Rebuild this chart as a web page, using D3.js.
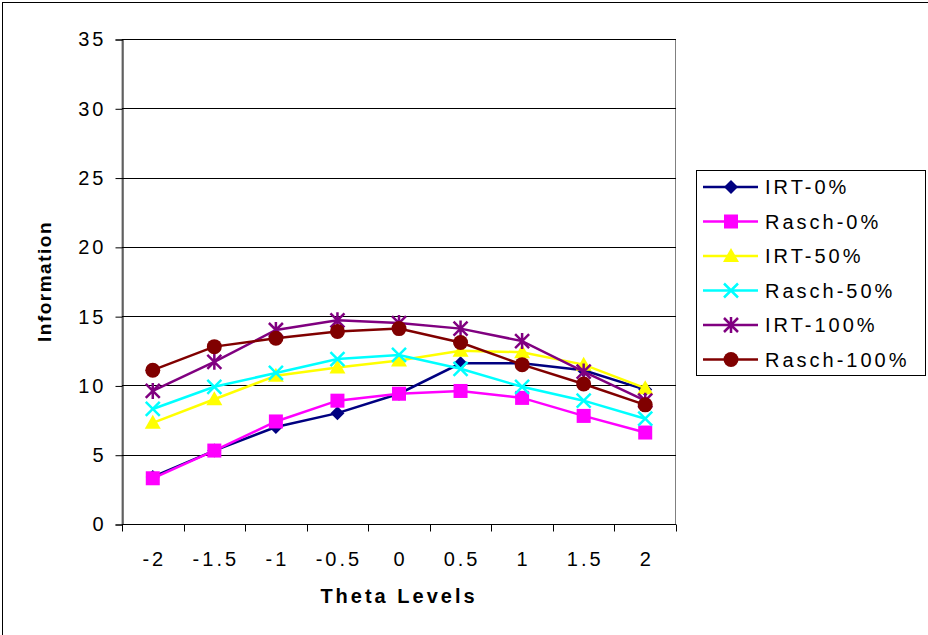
<!DOCTYPE html>
<html>
<head>
<meta charset="utf-8">
<script src="https://cdn.jsdelivr.net/npm/d3@7"></script>
<style>
  html, body { margin: 0; padding: 0; background: #fff; }
  svg { display: block; }
  text { font-family: Arial, "Liberation Sans", sans-serif; fill: #000; }
</style>
</head>
<body>
<svg id="chart" width="928" height="635"></svg>
<script>
const categories = ["-2", "-1.5", "-1", "-0.5", "0", "0.5", "1", "1.5", "2"];
const yTicks = [0, 5, 10, 15, 20, 25, 30, 35];
const seriesNames = ["IRT-0%", "Rasch-0%", "IRT-50%", "Rasch-50%", "IRT-100%", "Rasch-100%"];
const irt0     = [3.4, 5.3, 7.0, 8.0, 9.4, 11.6, 11.6, 11.1, 9.7];
const rasch0   = [3.3, 5.3, 7.4, 8.9, 9.4, 9.6, 9.1, 7.8, 6.6];
const irt50    = [7.3, 9.0, 10.7, 11.3, 11.8, 12.5, 12.4, 11.5, 9.8];
const rasch50  = [8.3, 9.9, 10.9, 11.9, 12.2, 11.2, 9.9, 8.9, 7.6];
const irt100   = [9.6, 11.7, 14.0, 14.7, 14.5, 14.1, 13.2, 11.0, 8.9];
const rasch100 = [11.1, 12.8, 13.4, 13.9, 14.1, 13.1, 11.5, 10.1, 8.6];
const colors  = ["#000080", "#FF00FF", "#FFFF00", "#00FFFF", "#800080", "#800000"];
const markers = ["diamond", "square", "triangle", "x", "star", "circle"];

const values = [irt0, rasch0, irt50, rasch50, irt100, rasch100];
const series = seriesNames.map((name, i) => ({
  name, color: colors[i], marker: markers[i],
  points: categories.map((c, j) => ({ c, v: values[i][j] }))
}));

const svg = d3.select("#chart");
const L = 122, R = 676, T = 39, B = 524;

// outer chart border
svg.append("rect").attr("x", 2.5).attr("y", 2.5).attr("width", 940).attr("height", 650)
  .attr("fill", "#fff").attr("stroke", "#000").attr("stroke-width", 1);

const x = d3.scaleBand().domain(categories).range([L, R]);
const y = d3.scaleLinear().domain([0, 35]).range([B, T]);
const cx = c => x(c) + x.bandwidth() / 2;

// plot area
svg.append("rect").attr("x", L).attr("y", T + 0.5).attr("width", R - L - 0.5).attr("height", B - T)
  .attr("fill", "#fff").attr("stroke", "#808080").attr("stroke-width", 1);

// gridlines
svg.append("g").selectAll("line").data(yTicks.filter(d => d > 0)).join("line")
  .attr("x1", L).attr("x2", R).attr("y1", d => Math.round(y(d)) + 0.5).attr("y2", d => Math.round(y(d)) + 0.5)
  .attr("stroke", "#000").attr("stroke-width", 1);

// y axis
const yAxis = svg.append("g").attr("transform", `translate(${L + 0.5},0.5)`)
  .call(d3.axisLeft(y).tickValues(yTicks).tickSize(7).tickPadding(12).tickFormat(d3.format("d")));
yAxis.select(".domain").attr("stroke", "#000");
yAxis.selectAll(".tick line").attr("stroke", "#000");
yAxis.selectAll("text").style("font-size", "20px").style("letter-spacing", "3px").attr("dx", "3px");
yAxis.selectAll("text").attr("font-family", null);

// x axis
const xAxis = svg.append("g").attr("transform", `translate(0,${B + 0.5})`)
  .call(d3.axisBottom(x).tickSize(0).tickPadding(27));
xAxis.select(".domain").attr("stroke", "#000").attr("d", `M${L},0H${R}`);
xAxis.selectAll("text").style("font-size", "20px").style("letter-spacing", "3px").attr("dx", "1.5px");
const bounds = categories.map(c => x(c)).concat([x(categories[categories.length - 1]) + x.bandwidth()]);
xAxis.append("g").selectAll("line").data(bounds).join("line")
  .attr("x1", d => Math.round(d) + 0.5).attr("x2", d => Math.round(d) + 0.5)
  .attr("y1", 0).attr("y2", 7).attr("stroke", "#000");

// axis titles
svg.append("text").attr("x", (L + R) / 2).attr("y", 603).attr("text-anchor", "middle")
  .style("font-size", "20px").style("font-weight", "bold").style("letter-spacing", "3px")
  .text("Theta Levels");
svg.append("text").attr("transform", `translate(51,${(T + B) / 2}) rotate(-90)`).attr("text-anchor", "middle")
  .style("font-size", "19px").style("font-weight", "bold").style("letter-spacing", "1.5px")
  .text("Information");

// marker drawing
function drawMarker(g, type, color) {
  const s = 7;
  if (type === "diamond") {
    g.append("path").attr("d", `M0,${-s}L${s},0L0,${s}L${-s},0Z`).attr("fill", color);
  } else if (type === "square") {
    g.append("rect").attr("x", -s).attr("y", -s).attr("width", 2 * s).attr("height", 2 * s).attr("fill", color);
  } else if (type === "triangle") {
    g.append("path").attr("d", `M0,${-s - 1}L${s + 1},${s - 1}L${-s - 1},${s - 1}Z`).attr("fill", color);
  } else if (type === "x") {
    g.append("path").attr("d", `M${-s},${-s}L${s},${s}M${s},${-s}L${-s},${s}`)
      .attr("stroke", color).attr("stroke-width", 2.5).attr("fill", "none");
  } else if (type === "star") {
    g.append("path").attr("d", `M${-s},${-s}L${s},${s}M${s},${-s}L${-s},${s}M0,${-s - 1}L0,${s + 1}`)
      .attr("stroke", color).attr("stroke-width", 2.5).attr("fill", "none");
  } else if (type === "circle") {
    g.append("circle").attr("r", s + 0.5).attr("fill", color);
  }
}

const line = d3.line().x(d => cx(d.c)).y(d => y(d.v));
const plot = svg.append("g");
series.forEach(s => {
  const g = plot.append("g");
  g.append("path").datum(s.points).attr("d", line)
    .attr("fill", "none").attr("stroke", s.color).attr("stroke-width", 2.5);
  g.selectAll("g.m").data(s.points).join("g").attr("class", "m")
    .attr("transform", d => `translate(${cx(d.c)},${y(d.v)})`)
    .each(function () { drawMarker(d3.select(this), s.marker, s.color); });
});

// legend
const lg = svg.append("g");
lg.append("rect").attr("x", 696.5).attr("y", 170.5).attr("width", 229).attr("height", 205)
  .attr("fill", "#fff").attr("stroke", "#000").attr("stroke-width", 1);
const ly = d3.scalePoint().domain(seriesNames).range([187, 359.5]);
series.forEach(s => {
  const g = lg.append("g").attr("transform", `translate(0,${ly(s.name)})`);
  g.append("line").attr("x1", 703).attr("x2", 758).attr("y1", 0).attr("y2", 0)
    .attr("stroke", s.color).attr("stroke-width", 2.5);
  const m = g.append("g").attr("transform", "translate(731,0)");
  drawMarker(m, s.marker, s.color);
  g.append("text").attr("x", 765).attr("y", 0).attr("dy", "0.36em")
    .style("font-size", "20px").style("letter-spacing", "3px").text(s.name);
});
</script>
</body>
</html>
